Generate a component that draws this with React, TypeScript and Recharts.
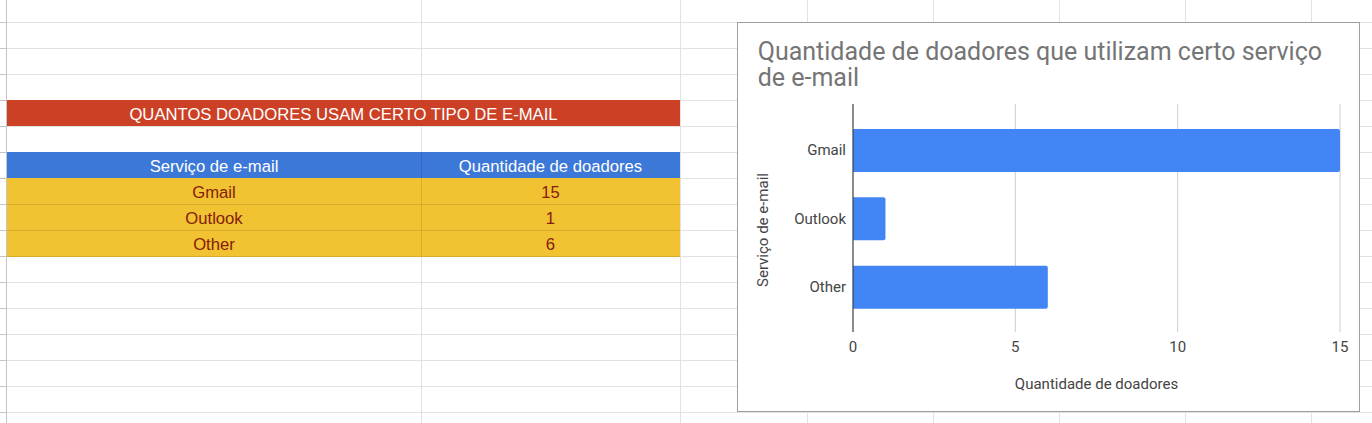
import React from 'react';
import { BarChart, Bar, XAxis, YAxis, CartesianGrid } from 'recharts';

const services = ['Gmail', 'Outlook', 'Other'];
const donors = [15, 1, 6];
const xTicks = [0, 5, 10, 15];
const chartTitle = 'Quantidade de doadores que utilizam certo serviço de e-mail';
const xAxisTitle = 'Quantidade de doadores';
const yAxisTitle = 'Serviço de e-mail';
const tableTitle = 'QUANTOS DOADORES USAM CERTO TIPO DE E-MAIL';
const tableHeaders = ['Serviço de e-mail', 'Quantidade de doadores'];

const data = services.map((s, i) => ({ service: s, donors: donors[i] }));

const ROW_LINES = [22, 48, 74, 100, 126, 152, 178, 204, 230, 256, 282, 308, 334, 360, 386, 412];
const COL_LINES = [421, 680, 807, 933, 1059, 1185, 1311];
const SHEET_FONT = '"Liberation Sans", Arial, sans-serif';
const CHART_FONT = 'Roboto, "Liberation Sans", Arial, sans-serif';

function YTitle(props: any) {
  const vb = props.viewBox || { x: 0, y: 81, width: 115, height: 228 };
  const x = vb.x + 29.5;
  const y = vb.y + vb.height / 2 + 12;
  return (
    <text x={x} y={y} transform={`rotate(-90 ${x} ${y})`} textAnchor="middle" fill="#444" fontSize={15} fontFamily={CHART_FONT}>
      {yAxisTitle}
    </text>
  );
}

function XTitle(props: any) {
  const vb = props.viewBox || { x: 115, y: 309, width: 487, height: 79 };
  const x = vb.x + vb.width / 2;
  const y = vb.y + 56.5;
  return (
    <text x={x} y={y} textAnchor="middle" fill="#444" fontSize={15} fontFamily={CHART_FONT}>
      {xAxisTitle}
    </text>
  );
}

export default function App() {
  const cellTextY = (top: number) => top + 20;
  const dataColor = '#85200c';
  return (
    <div style={{ position: 'absolute', left: 0, top: 0, width: 1372, height: 423, background: '#fff', overflow: 'hidden' }}>
      <svg width={1372} height={423} style={{ position: 'absolute', left: 0, top: 0 }}>
        {ROW_LINES.map((y) => (
          <rect key={'r' + y} x={0} y={y} width={1372} height={1} fill="#e2e2e2" />
        ))}
        {COL_LINES.map((x) => (
          <rect key={'c' + x} x={x} y={0} width={1} height={423} fill="#e2e2e2" />
        ))}
        {ROW_LINES.map((y) => (
          <rect key={'h' + y} x={0} y={y} width={6} height={1} fill="#c4c4c4" />
        ))}
        <rect x={6} y={0} width={1} height={423} fill="#c4c4c4" />

        <rect x={7} y={100} width={673} height={26} fill="#cc4125" />
        <text x={343.5} y={cellTextY(100)} textAnchor="middle" fill="#ffffff" fontSize={16.67} fontFamily={SHEET_FONT}>
          {tableTitle}
        </text>

        <rect x={7} y={152} width={673} height={26} fill="#3c78d8" />
        <rect x={421} y={152} width={1} height={26} fill="#3568c4" />
        <text x={214} y={cellTextY(152)} textAnchor="middle" fill="#ffffff" fontSize={16.67} fontFamily={SHEET_FONT}>
          {tableHeaders[0]}
        </text>
        <text x={550.5} y={cellTextY(152)} textAnchor="middle" fill="#ffffff" fontSize={16.67} fontFamily={SHEET_FONT}>
          {tableHeaders[1]}
        </text>

        <rect x={7} y={178} width={673} height={79} fill="#f1c232" />
        {services.map((s, i) => {
          const top = 178 + i * 26;
          return (
            <g key={s}>
              <rect x={7} y={top + 26} width={673} height={1} fill="#d9ad2b" />
              <text x={214} y={cellTextY(top)} textAnchor="middle" fill={dataColor} fontSize={16.67} fontFamily={SHEET_FONT}>
                {s}
              </text>
              <text x={550.5} y={cellTextY(top)} textAnchor="middle" fill={dataColor} fontSize={16.67} fontFamily={SHEET_FONT}>
                {String(donors[i])}
              </text>
            </g>
          );
        })}
        <rect x={421} y={178} width={1} height={79} fill="#d9ad2b" />
      </svg>

      <div
        style={{
          position: 'absolute',
          left: 737,
          top: 22,
          width: 623,
          height: 390,
          boxSizing: 'border-box',
          border: '1px solid #9e9e9e',
          background: '#fff',
        }}
      >
        <BarChart width={621} height={388} data={data} layout="vertical" margin={{ top: 81, right: 19, bottom: 0, left: 0 }}>
          <CartesianGrid horizontal={false} stroke="#cccccc" />
          <XAxis
            type="number"
            dataKey="donors"
            domain={[0, 15]}
            ticks={xTicks}
            axisLine={false}
            tickLine={false}
            height={79}
            tickMargin={3}
            tick={{ fill: '#444', fontSize: 15, fontFamily: CHART_FONT }}
            label={{ content: XTitle }}
          />
          <YAxis
            type="category"
            dataKey="service"
            width={115}
            axisLine={{ stroke: '#333' }}
            tickLine={false}
            tickMargin={1}
            padding={{ top: 12, bottom: 11 }}
            tick={{ fill: '#444', fontSize: 15, fontFamily: CHART_FONT }}
            label={{ content: YTitle }}
          />
          <Bar dataKey="donors" fill="#4285f4" barSize={43} radius={[0, 2, 2, 0]} isAnimationActive={false} />
        </BarChart>
        <div
          style={{
            position: 'absolute',
            left: 19.7,
            top: 16.2,
            width: 580,
            fontFamily: CHART_FONT,
            fontSize: 25,
            lineHeight: '25.5px',
            color: '#757575',
            pointerEvents: 'none',
          }}
        >
          {chartTitle}
        </div>
      </div>
    </div>
  );
}
